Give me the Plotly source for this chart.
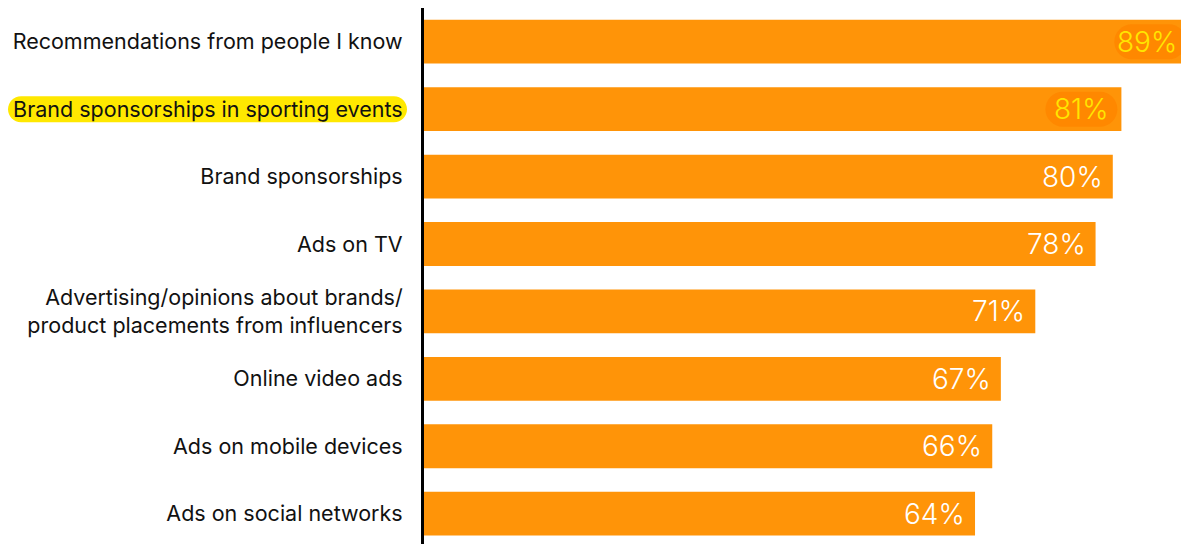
import plotly.graph_objects as go

categories = [
    "Recommendations from people I know",
    "Brand sponsorships in sporting events",
    "Brand sponsorships",
    "Ads on TV",
    "Advertising/opinions about brands/<br>product placements from influencers",
    "Online video ads",
    "Ads on mobile devices",
    "Ads on social networks",
]
values = [89, 81, 80, 78, 71, 67, 66, 64]
highlight_value = [True, True, False, False, False, False, False, False]
highlight_label = [False, True, False, False, False, False, False, False]

BAR = "#FF9408"
XMAX = 89.2
K = 0.5523


def pill(x0, x1, h):
    r = h / 2
    k = r * K
    return (f"M{x0 + r},{-r} L{x1 - r},{-r} "
            f"C{x1 - r + k},{-r} {x1},{-k} {x1},0 "
            f"C{x1},{k} {x1 - r + k},{r} {x1 - r},{r} "
            f"L{x0 + r},{r} "
            f"C{x0 + r - k},{r} {x0},{k} {x0},0 "
            f"C{x0},{-k} {x0 + r - k},{-r} {x0 + r},{-r} Z")


fig = go.Figure(go.Bar(
    y=categories, x=values, orientation="h",
    marker=dict(color=BAR, line=dict(width=0)),
    width=0.65, hoverinfo="skip",
))

for c, v, hv in zip(categories, values, highlight_value):
    if hv:
        fig.add_shape(
            type="path", xref="x", yref="y", xsizemode="pixel", ysizemode="pixel",
            xanchor=v, yanchor=c, path=pill(-76, -4, 35),
            fillcolor="#FF8800", line=dict(width=0), layer="above",
        )
    fig.add_annotation(
        x=v, y=c, xref="x", yref="y",
        text=f"{v}%", showarrow=False, xanchor="right",
        xshift=-11 if hv else -8,
        font=dict(family="Inter", size=28, weight=300,
                  color="#FFE600" if hv else "white"),
    )

for c, hl in zip(categories, highlight_label):
    if hl:
        fig.add_shape(
            type="path", xref="paper", yref="y", xsizemode="pixel", ysizemode="pixel",
            xanchor=0, yanchor=c, path=pill(-416, -17, 26),
            fillcolor="#FFE800", line=dict(width=0), layer="below",
        )

fig.update_yaxes(
    type="category", categoryorder="array", categoryarray=categories,
    range=[7.45, -0.5],
    showline=True, linecolor="#000000", linewidth=3,
    ticks="", showgrid=False, zeroline=False,
    ticklabelstandoff=14,
    tickfont=dict(family="Inter", size=21.5, color="#111111"),
)
fig.update_xaxes(range=[0, XMAX], visible=False, showgrid=False, zeroline=False)

fig.update_layout(
    width=1192, height=544,
    margin=dict(l=424, r=0, t=8, b=0),
    paper_bgcolor="white", plot_bgcolor="white",
    showlegend=False, bargap=0.35,
)
fig.write_html(
    "out.html",
    config={"displayModeBar": False},
    post_script="document.body.style.margin='0';document.body.style.overflow='hidden';",
)
